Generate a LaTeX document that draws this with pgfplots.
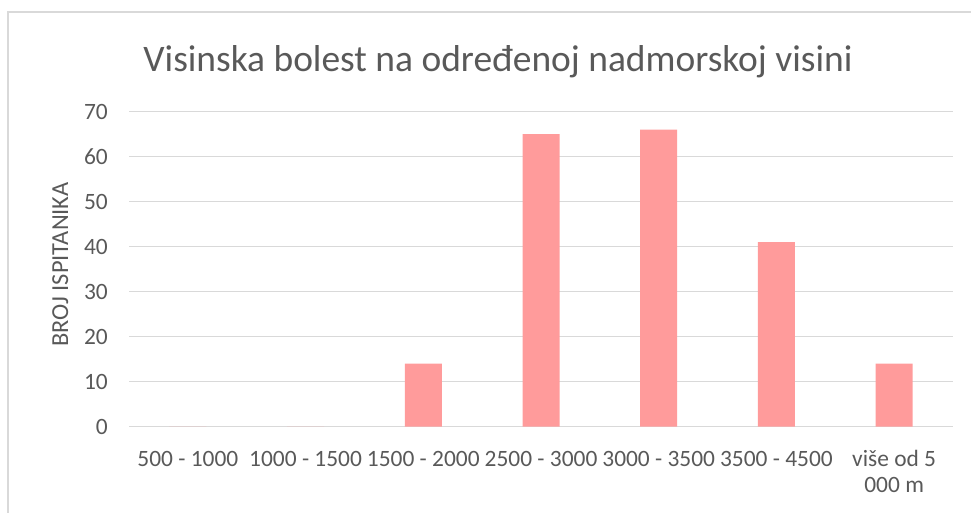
\documentclass[border=0pt]{standalone}
\usepackage{pgfplots}
\pgfplotsset{compat=1.18}
\usepackage{fontspec}
\setmainfont{Carlito}
\definecolor{bartxt}{HTML}{595959}
\definecolor{gridc}{HTML}{D9D9D9}
\definecolor{barc}{HTML}{FF9B9B}
\begin{document}
\begin{tikzpicture}[x=1bp,y=1bp]
\path[use as bounding box] (0,0) rectangle (971,513);
\draw[gridc, line width=1.5bp] (8,-5) -- (8,501) -- (980,501);
\begin{axis}[
  at={(129bp,86.3bp)}, anchor=south west,
  scale only axis, width=824bp, height=315bp,
  xmin=-0.5, xmax=6.5, ymin=0, ymax=70,
  ytick={0,10,...,70},
  xtick=data,
  xticklabels={\strut 500 - 1000,\strut 1000 - 1500,\strut 1500 - 2000,\strut 2500 - 3000,\strut 3000 - 3500,\strut 3500 - 4500,{\strut više od 5\\000 m}},
  axis line style={draw=none},
  major tick length=0,
  ymajorgrids, grid style={gridc, line width=1.5bp},
  /pgf/number format/assume math mode=true,
  ticklabel style={font=\fontsize{23.5}{26}\selectfont, text=bartxt},
  yticklabel style={inner sep=0pt, xshift=-21bp},
  xticklabel style={anchor=north, inner sep=0pt, yshift=-21.8bp, align=center},
  ylabel={BROJ ISPITANIKA},
  ylabel style={font=\fontsize{24.5}{28}\selectfont, text=bartxt, at={(axis description cs:-0.0835,0.515)}, anchor=center},
  ybar, bar width=37bp,
  clip=false,
]
\addplot[fill=barc, draw=none] coordinates {(0,0) (1,0) (2,14) (3,65) (4,66) (5,41) (6,14)};
\end{axis}
\node[anchor=base, text=bartxt, font=\fontsize{37.6}{42}\selectfont] at (498,441) {Visinska bolest na određenoj nadmorskoj visini};
\end{tikzpicture}
\end{document}
